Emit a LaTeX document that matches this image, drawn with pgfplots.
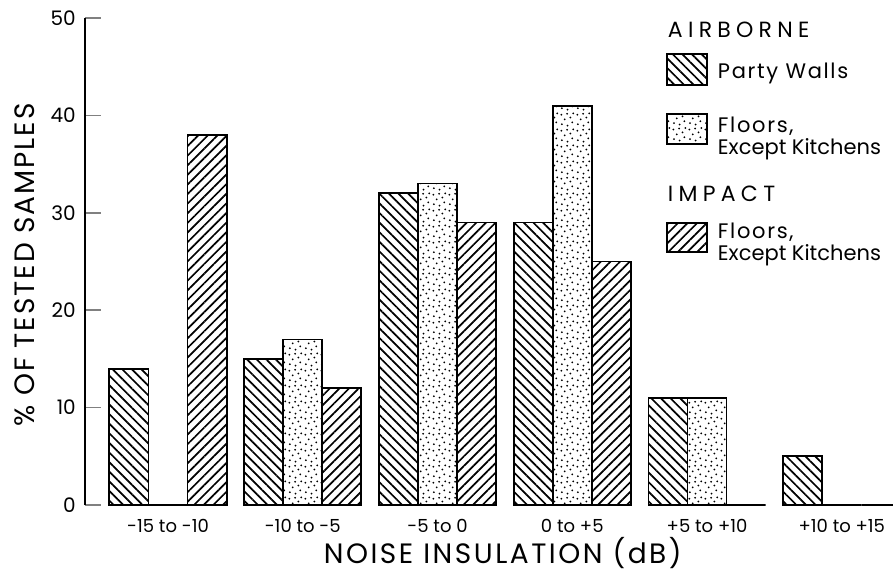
\documentclass[border=0pt]{standalone}
\usepackage{fontspec}
\setmainfont{Poppins}
\usepackage{pgfplots}
\usepackage{pgfplotstable}
\pgfplotsset{compat=1.18}
\usetikzlibrary{patterns.meta}

% irregular stipple for the airborne floor bars
\pgfdeclarepattern{
  name=stipple, type=uncolored,
  bottom left={\pgfpoint{0pt}{0pt}}, top right={\pgfpoint{16pt}{16pt}},
  tile size={\pgfpoint{16pt}{16pt}},
  code={
    \pgfpathcircle{\pgfpoint{2pt}{3pt}}{1.05pt}
    \pgfpathcircle{\pgfpoint{8pt}{1.5pt}}{1.05pt}
    \pgfpathcircle{\pgfpoint{13pt}{5pt}}{1.05pt}
    \pgfpathcircle{\pgfpoint{5pt}{8pt}}{1.05pt}
    \pgfpathcircle{\pgfpoint{11pt}{10pt}}{1.05pt}
    \pgfpathcircle{\pgfpoint{1.5pt}{13pt}}{1.05pt}
    \pgfpathcircle{\pgfpoint{7.5pt}{14pt}}{1.05pt}
    \pgfpathcircle{\pgfpoint{14pt}{14.5pt}}{1.05pt}
    \pgfusepath{fill}
  }
}

\pgfplotstableread{
x pw fl im
0 14 0  38
1 15 17 12
2 32 33 29
3 29 41 25
4 11 11 0
5 5  0  0
}\data

\tikzset{
  pwstyle/.style={draw=black, line width=1.8pt, pattern={Lines[angle=-45,distance=6.8pt,line width=1.7pt]}},
  flstyle/.style={draw=black, line width=1.8pt, pattern=stipple},
  imstyle/.style={draw=black, line width=1.8pt, pattern={Lines[angle=45,distance=6.8pt,line width=1.7pt]}},
}
\newcommand\capsfont{\fontsize{22}{24}\selectfont\addfontfeature{LetterSpace=24}}
\newcommand\wide{\addfontfeature{LetterSpace=8}}

\begin{document}
\begin{tikzpicture}
\useasboundingbox (-85pt,-69pt) rectangle (808pt,505pt);
\begin{axis}[
  scale only axis, width=808pt, height=487pt,
  xmin=-0.616, xmax=5.38, ymin=0, ymax=50,
  clip=false,
  axis lines*=left,
  x axis line style={draw=none},
  axis line style={line width=1.8pt},
  xtick={0,...,5},
  xticklabels={-15 to -10,-10 to -5,-5 to 0,0 to +5,+5 to +10,+10 to +15},
  xtick style={draw=none},
  xticklabel style={anchor=center, yshift=-5pt, font=\fontsize{18}{20}\selectfont},
  ytick={0,10,...,50},
  tick align=inside,
  major tick length=16pt,
  ytick style={line width=1.6pt},
  yticklabel style={anchor=east, inner sep=0pt, xshift=-9pt, font=\fontsize{20}{22}\selectfont},
  /pgf/number format/assume math mode=true,
  xlabel={NOISE INSULATION (dB)},
  xlabel style={at={(axis description cs:0.517,-0.0986)}, anchor=center,
    font=\fontsize{28}{32}\selectfont\addfontfeature{LetterSpace=9}},
  ylabel={\% OF TESTED SAMPLES},
  ylabel style={at={(axis description cs:-0.0743,0.493)}, anchor=center,
    font=\fontsize{28}{32}\selectfont\addfontfeature{LetterSpace=7}},
  ybar, bar width=0.29,
  legend style={draw=none, fill=none, inner sep=0pt,
    at={(axis description cs:0.719,1.002)}, anchor=north west,
    row sep=0pt, column sep=10pt, cells={anchor=base west}, nodes={inner sep=0pt},
    font=\fontsize{21}{24}\selectfont},
]
\addplot[pwstyle, bar shift=-0.29, forget plot] table[x=x, y=pw] {\data};
\addplot[flstyle, bar shift=0, forget plot] table[x=x, y=fl] {\data};
\addplot[imstyle, bar shift=0.29, forget plot] table[x=x, y=im] {\data};

\addlegendimage{legend image code/.code={}}
\addlegendentry{\rule[-5pt]{0pt}{25pt}\hspace*{-50pt}{\capsfont AIRBORNE}}
\addlegendimage{legend image code/.code={\draw[pwstyle] (0pt,-6pt) rectangle (40pt,25pt);}}
\addlegendentry{\rule[-10pt]{0pt}{50pt}{\wide Party Walls}}
\addlegendimage{legend image code/.code={\draw[flstyle] (0pt,11pt) rectangle (40pt,41pt);}}
\addlegendentry{\rule[-8pt]{0pt}{77pt}\shortstack[l]{{\wide Floors,}\\Except Kitchens}}
\addlegendimage{legend image code/.code={}}
\addlegendentry{\rule[-5pt]{0pt}{50pt}\hspace*{-50pt}{\capsfont IMPACT}}
\addlegendimage{legend image code/.code={\draw[imstyle] (0pt,9pt) rectangle (40pt,38pt);}}
\addlegendentry{\rule[-8pt]{0pt}{66pt}\shortstack[l]{{\wide Floors,}\\Except Kitchens}}
\end{axis}
\end{tikzpicture}
\end{document}
